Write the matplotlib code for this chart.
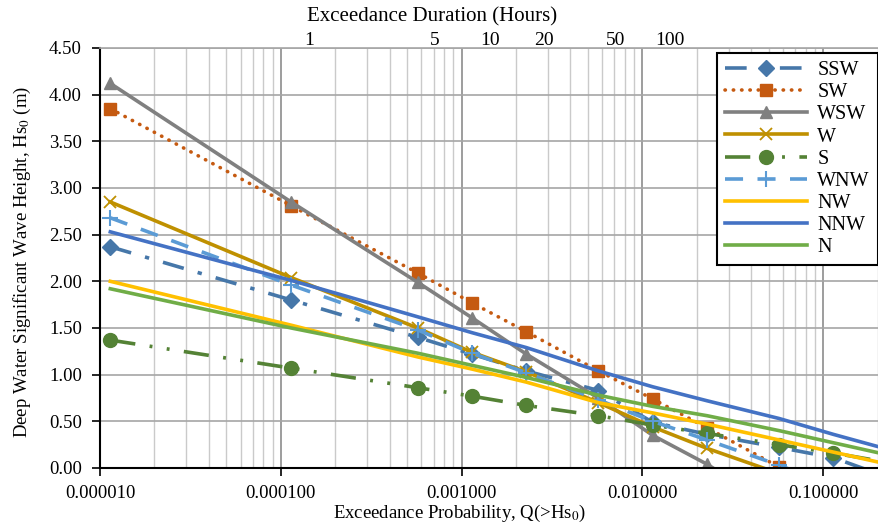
import numpy as np
import matplotlib
matplotlib.use("Agg")
import matplotlib.pyplot as plt
from matplotlib.ticker import FixedLocator, FormatStrFormatter, NullLocator, LogLocator

plt.rcParams['font.family'] = ['Liberation Serif', 'DejaVu Serif']
plt.rcParams['mathtext.fontset'] = 'stix'

# Exceedance probability of each point (0.1, 1, 5, 10, 20, 50, 100, 200, 500, 1000, 2000 hours)
exceed_prob = [1.14e-5, 1.14e-4, 5.71e-4, 1.14e-3, 2.28e-3, 5.71e-3,
               1.14e-2, 2.28e-2, 5.71e-2, 1.14e-1, 2.28e-1]

# Wave heights (m) per direction
ssw = [2.37, 1.80, 1.40, 1.22, 1.04, 0.83, 0.49, 0.36, 0.22, 0.11, -0.10]
sw  = [3.85, 2.81, 2.09, 1.77, 1.46, 1.04, 0.74, 0.43, 0.01, -0.30, -0.60]
wsw = [4.12, 2.85, 1.99, 1.61, 1.22, 0.75, 0.35, 0.04, -0.45, -0.85, -1.20]
w   = [2.85, 2.04, 1.50, 1.24, 1.03, 0.70, 0.44, 0.21, -0.06, -0.26, -0.45]
s   = [1.37, 1.07, 0.86, 0.77, 0.67, 0.56, 0.46, 0.37, 0.25, 0.16, 0.06]
wnw = [2.68, 1.96, 1.48, 1.23, 1.02, 0.73, 0.50, 0.30, 0.03, -0.20, -0.40]
nw  = [2.00, 1.53, 1.19, 1.06, 0.92, 0.70, 0.59, 0.47, 0.30, 0.17, 0.04]
nnw = [2.53, 2.01, 1.62, 1.45, 1.29, 1.04, 0.87, 0.72, 0.53, 0.36, 0.20]
n   = [1.92, 1.50, 1.23, 1.10, 0.97, 0.78, 0.66, 0.56, 0.40, 0.27, 0.14]

yticks = np.arange(0, 4.51, 0.5)
hour_ticks = [1, 5, 10, 20, 50, 100]

fig = plt.figure(figsize=(8.79, 5.27), dpi=100)
ax = fig.add_axes([0.1138, 0.112, 0.885, 0.797])

lw = 2.6
ax.plot(exceed_prob, ssw, color='#4677A9', lw=lw, ls=(0, (6, 4, 1.2, 4)),
        marker='D', ms=8, label='SSW')
ax.plot(exceed_prob, sw, color='#C55A11', lw=lw, ls=(0, (0.1, 2.2)),
        dash_capstyle='round', marker='s', ms=9, label='SW')
ax.plot(exceed_prob, wsw, color='#808080', lw=lw, marker='^', ms=9, label='WSW')
ax.plot(exceed_prob, w, color='#BF9000', lw=lw, marker='x', ms=9, mew=1.3, label='W')
ax.plot(exceed_prob, s, color='#548235', lw=lw, ls=(0, (7, 4, 0.8, 4, 0.8, 4)),
        marker='o', ms=10, label='S')
ax.plot(exceed_prob, wnw, color='#5B9BD5', lw=lw, ls=(0, (5, 4)),
        marker='+', ms=11, mew=1.5, label='WNW')
ax.plot(exceed_prob, nw, color='#FFC000', lw=lw, label='NW')
ax.plot(exceed_prob, nnw, color='#4472C4', lw=lw, label='NNW')
ax.plot(exceed_prob, n, color='#70AD47', lw=lw, label='N')

ax.set_xscale('log')
ax.set_xlim(1e-5, 0.201)
ax.set_ylim(0, 4.5)
ax.set_yticks(yticks)
ax.yaxis.set_major_formatter(FormatStrFormatter('%.2f'))
ax.xaxis.set_major_locator(FixedLocator([1e-5, 1e-4, 1e-3, 1e-2, 1e-1]))
ax.xaxis.set_major_formatter(FormatStrFormatter('%.6f'))
ax.xaxis.set_minor_locator(LogLocator(base=10, subs=np.arange(2, 10), numticks=20))
ax.tick_params(axis='both', which='major', labelsize=13.5, length=6, width=1.2, direction='out')
ax.tick_params(axis='x', which='minor', length=0)
ax.tick_params(axis='x', pad=6)
ax.tick_params(axis='y', pad=7)

ax.grid(which='major', axis='y', color='#A6A6A6', lw=1.2)
ax.grid(which='major', axis='x', color='#8C8C8C', lw=1.2)
ax.grid(which='minor', axis='x', color='#CACACA', lw=1.0)
ax.set_axisbelow(True)

for side in ['left', 'bottom']:
    ax.spines[side].set_linewidth(1.5)
    ax.spines[side].set_color('black')
ax.spines['right'].set_visible(False)
ax.spines['top'].set_color('#A6A6A6')
ax.spines['top'].set_linewidth(1.2)

ax.set_xlabel('Exceedance Probability, Q(>Hs$_0$)', fontsize=13.5)
ax.xaxis.set_label_coords(0.462, -0.082)
ax.set_ylabel('Deep Water Significant Wave Height, Hs$_0$ (m)', fontsize=13.5)
ax.yaxis.set_label_coords(-0.086, 0.49)

# Top axis: exceedance duration in hours
secax = ax.secondary_xaxis('top', functions=(lambda q: q * 7000, lambda h: h / 7000))
secax.xaxis.set_major_locator(FixedLocator(hour_ticks))
secax.xaxis.set_minor_locator(NullLocator())
secax.set_xticklabels([str(h) for h in hour_ticks])
secax.tick_params(length=0, labelsize=14, pad=-1)
secax.spines['top'].set_visible(False)
fig.text(0.4915, 0.968, 'Exceedance Duration (Hours)', fontsize=15,
         ha='center', va='center')

leg = ax.legend(loc='upper right', bbox_to_anchor=(1.0, 0.988), borderaxespad=0,
                fontsize=14.5, frameon=True, fancybox=False, edgecolor='black',
                framealpha=1, handlelength=4.1, labelspacing=0.15, borderpad=0.4,
                handletextpad=0.5)
leg.get_frame().set_linewidth(1.5)

fig.savefig('out.png', dpi=100)
